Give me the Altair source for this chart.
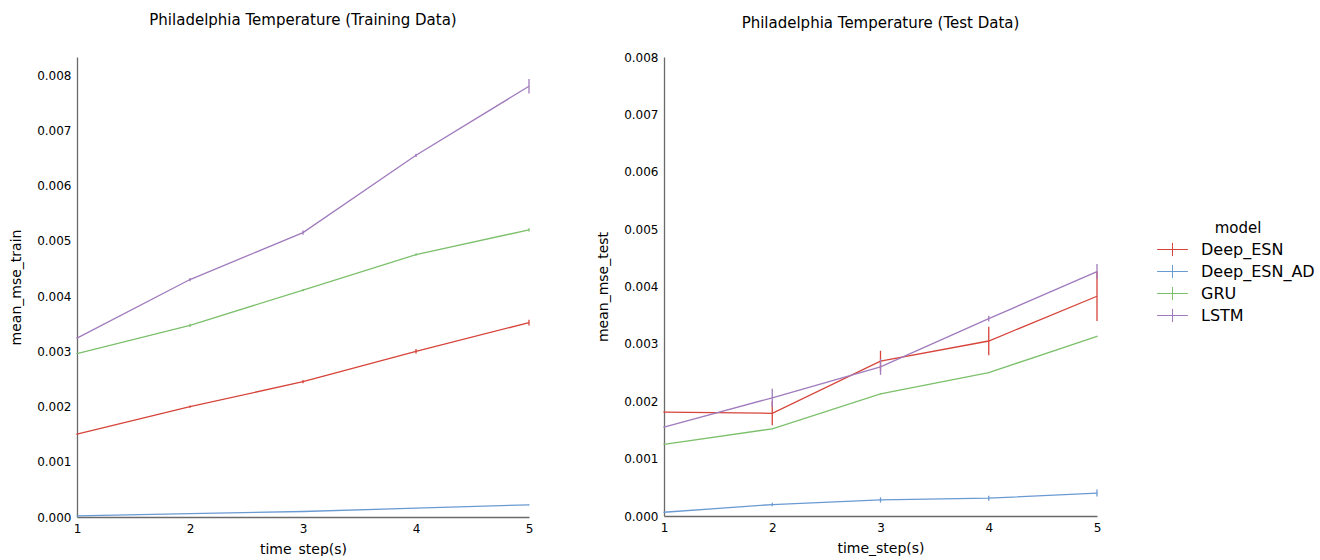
import altair as alt
import pandas as pd

steps = [1, 2, 3, 4, 5]
models = ["Deep_ESN", "Deep_ESN_AD", "GRU", "LSTM"]
colors = ["#d6443a", "#6a9ad2", "#7dc06c", "#a07bbd"]

# Training data (means and half-width of error bars)
train_deep_esn = [0.00150, 0.00200, 0.00245, 0.00300, 0.00352]
train_deep_esn_ad = [0.00002, 0.00006, 0.00010, 0.00016, 0.00022]
train_gru = [0.00296, 0.00347, 0.00411, 0.00475, 0.00520]
train_lstm = [0.00324, 0.00430, 0.00515, 0.00655, 0.00780]
train_err_deep_esn = [0.00001, 0.00002, 0.00003, 0.00004, 0.00005]
train_err_deep_esn_ad = [0.000005, 0.000005, 0.000005, 0.000005, 0.000005]
train_err_gru = [0.00001, 0.00003, 0.00002, 0.00002, 0.00003]
train_err_lstm = [0.00001, 0.00003, 0.00004, 0.00003, 0.00013]

# Test data
test_deep_esn = [0.00181, 0.00179, 0.00270, 0.00305, 0.00383]
test_deep_esn_ad = [0.000065, 0.00020, 0.00028, 0.00031, 0.00040]
test_gru = [0.00125, 0.00152, 0.00213, 0.00250, 0.00313]
test_lstm = [0.00155, 0.00206, 0.00260, 0.00344, 0.00426]
test_err_deep_esn = [0.00001, 0.00021, 0.00018, 0.00025, 0.00043]
test_err_deep_esn_ad = [0.00001, 0.00003, 0.000045, 0.000045, 0.00006]
test_err_gru = [0.00001, 0.00001, 0.00001, 0.00001, 0.00001]
test_err_lstm = [0.00001, 0.00016, 0.00014, 0.00005, 0.00013]

y_ticks = [0.000, 0.001, 0.002, 0.003, 0.004, 0.005, 0.006, 0.007, 0.008]


def build(means, errs):
    rows = []
    for m, mean, err in zip(models, means, errs):
        for s, v, e in zip(steps, mean, err):
            rows.append({"model": m, "step": s, "mse": v, "lo": v - e, "hi": v + e})
    return pd.DataFrame(rows)


train_df = build([train_deep_esn, train_deep_esn_ad, train_gru, train_lstm],
                 [train_err_deep_esn, train_err_deep_esn_ad, train_err_gru, train_err_lstm])
test_df = build([test_deep_esn, test_deep_esn_ad, test_gru, test_lstm],
                [test_err_deep_esn, test_err_deep_esn_ad, test_err_gru, test_err_lstm])

PAD_L = 9
PAD_T = 13

color = alt.Color(
    "model:N",
    scale=alt.Scale(domain=models, range=colors),
    legend=alt.Legend(
        title="model",
        orient="none",
        legendX=1084,
        legendY=164,
        symbolType="M-1.4,0H1.4M0,-0.6V0.6",
        symbolSize=484,
        symbolStrokeWidth=1,
        labelFontSize=16,
        labelOffset=17,
        titleFontSize=15,
        titleFontWeight="normal",
        titleAnchor="middle",
        titlePadding=2,
        rowPadding=1,
        padding=0,
    ),
)


def panel(df, title, ytitle, ymax, w, h, title_offset):
    base = alt.Chart(df)
    x = alt.X(
        "step:Q",
        scale=alt.Scale(domain=[1, 5], nice=False, zero=False),
        axis=alt.Axis(values=steps, format="d", title="time_step(s)", labelFlush=False),
    )
    y = alt.Y(
        "mse:Q",
        scale=alt.Scale(domain=[0, ymax], nice=False),
        axis=alt.Axis(values=y_ticks, format=".3f", title=ytitle),
    )
    lines = base.mark_line(strokeWidth=1.3).encode(x=x, y=y, color=color)
    bars = base.mark_rule(strokeWidth=1.3).encode(
        x=alt.X("step:Q"), y=alt.Y("lo:Q"), y2="hi:Q", color=color
    )
    return alt.layer(lines, bars).properties(
        width=w,
        height=h,
        title=alt.TitleParams(title, fontSize=15, fontWeight="normal", offset=title_offset,
                              anchor="middle", frame="group"),
    )


left = panel(train_df, "Philadelphia Temperature (Training Data)", "mean_mse_train", 0.00833, 452, 460, 29)
right = panel(test_df, "Philadelphia Temperature (Test Data)", "mean_mse_test", 0.008, 433, 459, 20)

chart = (
    alt.hconcat(left, right, spacing=63)
    .properties(padding={"left": PAD_L, "top": PAD_T, "right": 5, "bottom": 0})
    .configure(font="DejaVu Sans")
    .configure_view(stroke=None)
    .configure_axis(
        grid=False,
        ticks=False,
        domainColor="#6a6a6a",
        domainWidth=1.3,
        labelFontSize=12,
        labelColor="#000000",
        labelPadding=6,
        titleFontSize=14,
        titleFontWeight="normal",
        titleColor="#000000",
    )
    .configure_axisX(titlePadding=8)
    .configure_axisY(titlePadding=13)
    .configure_title(color="#000000")
)

chart.save("out.html", embed_options={"renderer": "svg", "actions": False})
